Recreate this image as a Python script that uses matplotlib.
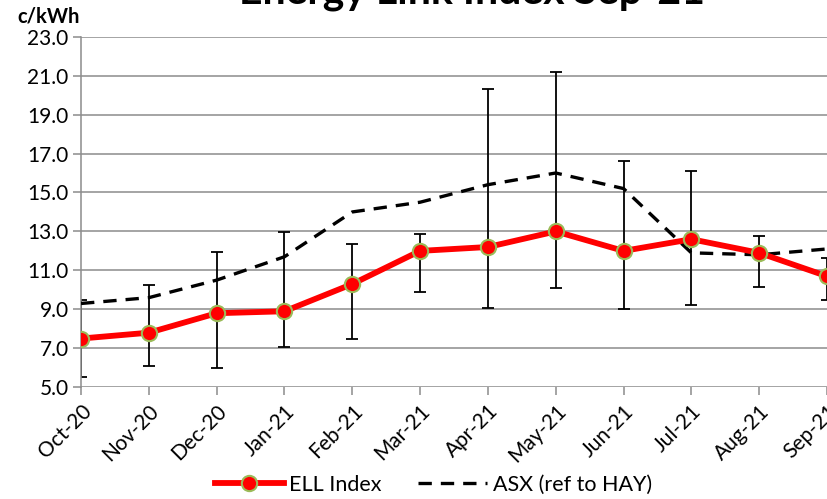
import matplotlib
matplotlib.use("Agg")
import matplotlib.pyplot as plt
import numpy as np

# data
months = ["Oct-20", "Nov-20", "Dec-20", "Jan-21", "Feb-21", "Mar-21",
          "Apr-21", "May-21", "Jun-21", "Jul-21", "Aug-21", "Sep-21"]
ell = [7.5, 7.8, 8.8, 8.9, 10.3, 12.0, 12.2, 13.0, 12.0, 12.6, 11.9, 10.7]
ell_low = [5.5, 6.1, 6.0, 7.05, 7.5, 9.9, 9.05, 10.1, 9.0, 9.2, 10.15, 9.5]
ell_high = [9.5, 10.25, 11.95, 12.95, 12.35, 12.85, 20.3, 21.2, 16.6, 16.1, 12.75, 11.65]
asx = [9.3, 9.6, 10.5, 11.7, 14.0, 14.5, 15.4, 16.0, 15.2, 11.9, 11.8, 12.1]
yticks = [5.0, 7.0, 9.0, 11.0, 13.0, 15.0, 17.0, 19.0, 21.0, 23.0]

plt.rcParams['font.family'] = ['Lato', 'DejaVu Sans']

fig = plt.figure(figsize=(8.27, 4.99), dpi=100)
ax = fig.add_axes([0.098, 0.224, 0.902, 0.7025])

x = np.arange(len(months))
ell_a = np.array(ell)
yerr = [ell_a - np.array(ell_low), np.array(ell_high) - ell_a]

# error bars
ax.errorbar(x, ell, yerr=yerr, fmt='none', ecolor='black', elinewidth=1.3,
            capsize=4, capthick=1.3, zorder=2)

# ASX line
ax.plot(x, asx, color='black', linestyle=(0, (4, 2.7)), linewidth=2.4,
        label='ASX (ref to HAY)', zorder=3)

# ELL index
ax.plot(x, ell, color='#ff0000', linewidth=4.2, marker='o', markersize=11,
        markerfacecolor='#ff0000', markeredgecolor='#9bbb59', markeredgewidth=1.5,
        label='ELL Index', zorder=4)

ax.set_xlim(0, 11)
ax.set_ylim(5, 23)
ax.set_yticks(yticks)
ax.set_yticklabels(["%.1f" % v for v in yticks], fontsize=15)
ax.set_xticks(x)
ax.set_xticklabels(months, rotation=45, ha='right', rotation_mode='anchor', fontsize=15)

ax.grid(axis='y', color='#8c8c8c', linewidth=1.1)
ax.set_axisbelow(True)
for s in ['top', 'right', 'bottom']:
    ax.spines[s].set_visible(False)
ax.spines['left'].set_color('#8c8c8c')
ax.spines['left'].set_linewidth(1.1)
ax.tick_params(axis='y', length=6, color='#8c8c8c', width=1.1, pad=3)
ax.tick_params(axis='x', length=6, color='#8c8c8c', width=1.1, pad=4)

fig.text(0.571, 0.992, "Energy Link Index Sep-21", fontsize=29.5, fontweight='bold',
         ha='center', va='baseline')
fig.text(0.059, 0.966, "c/kWh", fontsize=14.5, fontweight='bold', ha='center', va='center')

handles, labels = ax.get_legend_handles_labels()
fig.legend(handles[::-1], labels[::-1], loc='center', bbox_to_anchor=(0.524, 0.028),
           ncol=2, frameon=False, fontsize=15.5, handlelength=3.2, columnspacing=1.7,
           handletextpad=0.25)

fig.savefig("out.png", dpi=100)
